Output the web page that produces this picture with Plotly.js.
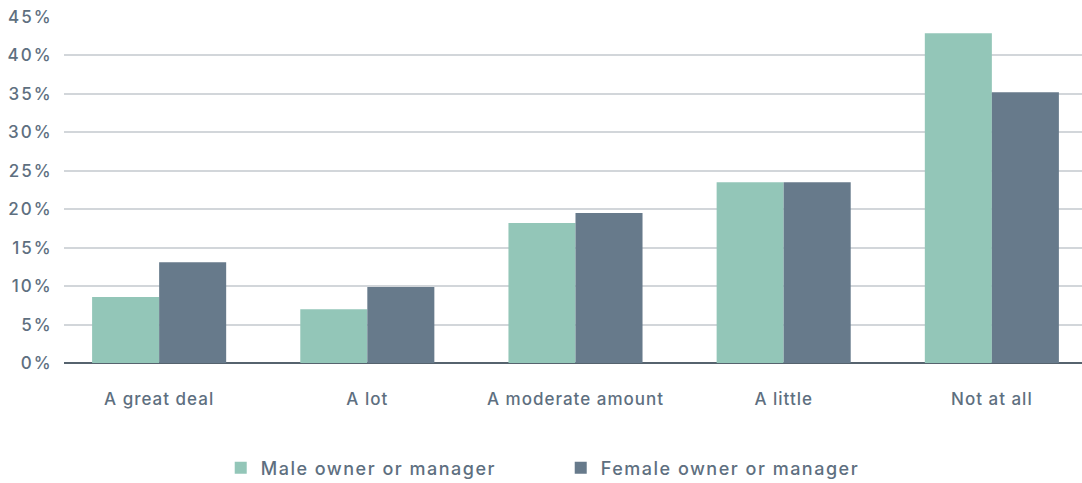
<!DOCTYPE html>
<html>
<head>
<meta charset="utf-8">
<script src="https://cdn.plot.ly/plotly-3.0.1.min.js"></script>
<style>
html, body { margin: 0; padding: 0; background: #fff; }
#chart { width: 1082px; height: 483px; }
g.xtick text { letter-spacing: 1px; }
g.ytick text { letter-spacing: 2px; }
text.legendtext { letter-spacing: 1.5px; }
</style>
</head>
<body>
<div id="chart"></div>
<script>
const categories = ["A great deal", "A lot", "A moderate amount", "A little", "Not at all"];
const maleValues = [8.6, 7.0, 18.2, 23.5, 42.9];
const femaleValues = [13.1, 9.9, 19.5, 23.5, 35.2];
const seriesNames = ["Male owner or manager", "Female owner or manager"];
const yTickVals = [0, 5, 10, 15, 20, 25, 30, 35, 40, 45];
const yTickText = yTickVals.map(v => v + "%");

const textColor = "#5e6f80";
const fontFam = "Inter, 'Open Sans', sans-serif";

const data = [
  { type: "bar", x: categories, y: maleValues, name: seriesNames[0],
    marker: { color: "#93c6b8" }, hoverinfo: "skip" },
  { type: "bar", x: categories, y: femaleValues, name: seriesNames[1],
    marker: { color: "#677a8b" }, hoverinfo: "skip" }
];

const layout = {
  width: 1082, height: 483,
  margin: { l: 64, r: 0, t: 17, b: 120 },
  paper_bgcolor: "#ffffff", plot_bgcolor: "#ffffff",
  barmode: "group", bargap: 0.356, bargroupgap: 0,
  font: { family: fontFam, color: textColor, size: 15, weight: 500 },
  showlegend: true,
  legend: {
    orientation: "h", xref: "container", x: 0.204, xanchor: "left",
    yref: "container", y: 0.031, yanchor: "middle",
    font: { size: 18, color: textColor, family: fontFam, weight: 500 },
    entrywidth: 295, entrywidthmode: "pixels",
    itemwidth: 30, tracegroupgap: 0
  },
  xaxis: {
    type: "category", range: [-0.457, 4.433],
    showgrid: false, showline: false, zeroline: false,
    ticks: "outside", ticklen: 21, tickcolor: "rgba(0,0,0,0)",
    tickfont: { size: 17, color: textColor, family: fontFam, weight: 500 }
  },
  yaxis: {
    range: [0, 45], tickvals: yTickVals, ticktext: yTickText,
    showgrid: true, gridcolor: "#d2d6da", gridwidth: 2,
    zeroline: true, zerolinecolor: "#56636e", zerolinewidth: 2,
    showline: false, ticks: "outside", ticklen: 7, tickcolor: "rgba(0,0,0,0)",
    tickfont: { size: 17, color: textColor, family: fontFam, weight: 500 }
  }
};

Plotly.newPlot("chart", data, layout, { displayModeBar: false, staticPlot: true });
</script>
</body>
</html>
